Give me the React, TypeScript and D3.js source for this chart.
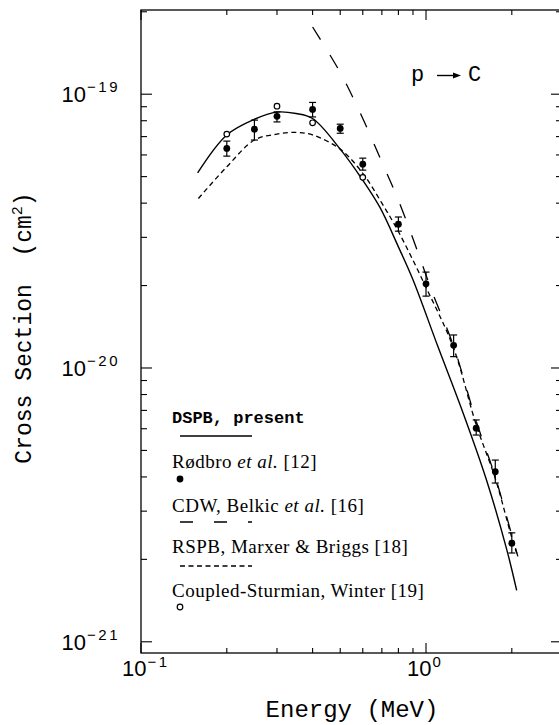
import React from "react";
import * as d3 from "d3";

// ---- data (energy in MeV, cross section in cm^2) ----
const dspbE = [0.158, 0.2, 0.25, 0.3, 0.35, 0.4, 0.5, 0.6, 0.69, 0.8, 0.9, 1.1, 1.35, 1.63, 1.92, 2.08];
const dspbS = [5.16e-20, 7.1e-20, 8.1e-20, 8.6e-20, 8.5e-20, 8.15e-20, 6.3e-20, 4.85e-20, 3.85e-20, 2.77e-20, 2.1e-20, 1.2e-20, 6.84e-21, 3.9e-21, 2.17e-21, 1.54e-21];

const cdwE = [0.4, 0.5, 0.6, 0.7, 0.8, 0.93, 1.05, 1.25, 1.5, 1.75, 2.0, 2.1];
const cdwS = [1.76e-19, 1.2e-19, 8.15e-20, 5.65e-20, 4.1e-20, 2.7e-20, 1.9e-20, 1.2e-20, 6.4e-21, 4.0e-21, 2.45e-21, 2.05e-21];

const rspbE = [0.159, 0.2, 0.25, 0.3, 0.35, 0.4, 0.5, 0.6, 0.7, 0.8, 1.0, 1.25, 1.5, 1.75, 2.0, 2.1];
const rspbS = [4.16e-20, 5.43e-20, 6.8e-20, 7.15e-20, 7.25e-20, 7.1e-20, 6.3e-20, 5.14e-20, 4.0e-20, 3.15e-20, 1.97e-20, 1.18e-20, 6.2e-21, 3.95e-21, 2.4e-21, 2.05e-21];

const rodbroE = [0.2, 0.25, 0.3, 0.4, 0.5, 0.6, 0.8, 1.0, 1.25, 1.5, 1.75, 2.0];
const rodbroS = [6.34e-20, 7.45e-20, 8.3e-20, 8.8e-20, 7.5e-20, 5.55e-20, 3.35e-20, 2.03e-20, 1.21e-20, 6.03e-21, 4.18e-21, 2.29e-21];
const rodbroHi = [6.74e-20, 8.04e-20, 8.62e-20, 9.33e-20, 7.77e-20, 5.84e-20, 3.56e-20, 2.24e-20, 1.32e-20, 6.46e-21, 4.61e-21, 2.5e-21];
const rodbroLo = [5.94e-20, 6.8e-20, 7.92e-20, 8.26e-20, 7.2e-20, 5.28e-20, 3.16e-20, 1.83e-20, 1.1e-20, 5.69e-21, 3.8e-21, 2.11e-21];

const winterE = [0.2, 0.3, 0.4, 0.6];
const winterS = [7.15e-20, 9.04e-20, 7.86e-20, 4.97e-20];

const xMajorTicks = [0.1, 1];
const xMinorTicks = [0.2, 0.3, 0.4, 0.5, 0.6, 0.7, 0.8, 0.9, 2, 3];
const xTickExp = ["\u22121", "0"];
const yMajorTicks = [1e-21, 1e-20, 1e-19];
const yTickExp = ["\u221221", "\u221220", "\u221219"];
const yMinorTicks = [2e-21, 3e-21, 4e-21, 5e-21, 6e-21, 7e-21, 8e-21, 9e-21, 2e-20, 3e-20, 4e-20, 5e-20, 6e-20, 7e-20, 8e-20, 9e-20, 2e-19];

const W = 559;
const H = 725;
const L = 141, R = 562, T = 10, B = 653;

export default function App() {
  const x = d3.scaleLog().domain([0.1, 3]).range([L, R]);
  const y = d3.scaleLog().domain([9.1e-22, 2.03e-19]).range([B, T]);

  const line = d3
    .line<[number, number]>()
    .x((d) => x(d[0]))
    .y((d) => y(d[1]))
    .curve(d3.curveCatmullRom.alpha(0.5));

  const zip = (a: number[], b: number[]) => a.map((v, i) => [v, b[i]] as [number, number]);

  const mono = "'Liberation Mono', 'Courier New', monospace";
  const sans = "'Liberation Sans', Arial, sans-serif";
  const serif = "'Liberation Serif', 'Times New Roman', serif";
  const sw = 1.3;
  const lg = { fontFamily: serif, fontSize: 19, letterSpacing: 0.5 };

  return (
    <svg
      width={W}
      height={H}
      viewBox={`0 0 ${W} ${H}`}
      style={{ position: "absolute", left: 0, top: 0, background: "#fff" }}
    >
      <rect x={0} y={0} width={W} height={H} fill="#fff" />
      {/* frame */}
      <rect x={L} y={T} width={R - L} height={B - T} fill="none" stroke="#000" strokeWidth={sw} />

      {/* x ticks bottom & top */}
      {xMajorTicks.map((t) => (
        <g key={"xM" + t}>
          <line x1={x(t)} x2={x(t)} y1={B} y2={B - 10} stroke="#000" strokeWidth={1.1} />
          <line x1={x(t)} x2={x(t)} y1={T} y2={T + 10} stroke="#000" strokeWidth={1.1} />
        </g>
      ))}
      {xMinorTicks.map((t) => (
        <g key={"xm" + t}>
          <line x1={x(t)} x2={x(t)} y1={B} y2={B - 5} stroke="#000" strokeWidth={1.1} />
          <line x1={x(t)} x2={x(t)} y1={T} y2={T + 5} stroke="#000" strokeWidth={1.1} />
        </g>
      ))}
      {/* y ticks left & right */}
      {yMajorTicks.map((t) => (
        <g key={"yM" + t}>
          <line x1={L} x2={L + 11} y1={y(t)} y2={y(t)} stroke="#000" strokeWidth={1.1} />
          <line x1={R} x2={R - 11} y1={y(t)} y2={y(t)} stroke="#000" strokeWidth={1.1} />
        </g>
      ))}
      {yMinorTicks.map((t) => (
        <g key={"ym" + t}>
          <line x1={L} x2={L + 6} y1={y(t)} y2={y(t)} stroke="#000" strokeWidth={1.1} />
          <line x1={R} x2={R - 6} y1={y(t)} y2={y(t)} stroke="#000" strokeWidth={1.1} />
        </g>
      ))}

      {/* tick labels */}
      {xMajorTicks.map((t, i) => (
        <text key={"xl" + t} x={x(t) - 19} y={B + 23} fontFamily={sans} fontSize={22}>
          10
          <tspan dx={1} dy={-9} fontSize={15} letterSpacing={2.5}>
            {xTickExp[i]}
          </tspan>
        </text>
      ))}
      {yMajorTicks.map((t, i) => (
        <text key={"yl" + t} x={120} y={y(t) + 8} textAnchor="end" fontFamily={sans} fontSize={22}>
          10
          <tspan dx={1} dy={-10} fontSize={15} letterSpacing={2.5}>
            {yTickExp[i]}
          </tspan>
        </text>
      ))}

      {/* axis titles */}
      <text x={352} y={717} textAnchor="middle" fontFamily={mono} fontSize={24}>
        Energy (MeV)
      </text>
      <text
        transform={`translate(31, 328) rotate(-90)`}
        textAnchor="middle"
        fontFamily={mono}
        fontSize={23}
        xmlSpace="preserve"
      >
        {"Cross Section  (cm"}
        <tspan dy={-9} fontSize={15}>
          2
        </tspan>
        <tspan dy={9}>)</tspan>
      </text>

      {/* p -> C */}
      <text x={411} y={81} fontFamily={mono} fontSize={22}>
        p
      </text>
      <line x1={437} x2={455} y1={75.5} y2={75.5} stroke="#000" strokeWidth={1.4} />
      <path d="M453,72.5 L461,75.5 L453,78.5 Z" fill="#000" />
      <text x={468} y={81} fontFamily={mono} fontSize={22}>
        C
      </text>

      {/* curves */}
      <path d={line(zip(dspbE, dspbS)) || ""} fill="none" stroke="#000" strokeWidth={1.4} />
      <path d={line(zip(cdwE, cdwS)) || ""} fill="none" stroke="#000" strokeWidth={1.3} strokeDasharray="15,18" />
      <path d={line(zip(rspbE, rspbS)) || ""} fill="none" stroke="#000" strokeWidth={1.3} strokeDasharray="5,3.5" />

      {/* Rødbro data with error bars */}
      {rodbroE.map((e, i) => (
        <g key={"r" + i}>
          <line x1={x(e)} x2={x(e)} y1={y(rodbroHi[i])} y2={y(rodbroLo[i])} stroke="#000" strokeWidth={1.2} />
          <line x1={x(e) - 3.5} x2={x(e) + 3.5} y1={y(rodbroHi[i])} y2={y(rodbroHi[i])} stroke="#000" strokeWidth={1.2} />
          <line x1={x(e) - 3.5} x2={x(e) + 3.5} y1={y(rodbroLo[i])} y2={y(rodbroLo[i])} stroke="#000" strokeWidth={1.2} />
          <circle cx={x(e)} cy={y(rodbroS[i])} r={3.4} fill="#000" />
        </g>
      ))}
      {/* Winter open circles */}
      {winterE.map((e, i) => (
        <circle key={"w" + i} cx={x(e)} cy={y(winterS[i])} r={2.8} fill="#fff" stroke="#000" strokeWidth={1.2} />
      ))}

      {/* legend */}
      <text x={172} y={423} fontFamily={mono} fontSize={17} fontWeight="bold">
        DSPB, present
      </text>
      <line x1={180} x2={252} y1={436} y2={436} stroke="#000" strokeWidth={1.4} />

      <text x={172} y={468} {...lg}>
        Rødbro <tspan fontStyle="italic">et al.</tspan> [12]
      </text>
      <circle cx={180} cy={479} r={3.4} fill="#000" />

      <text x={172} y={512} {...lg}>
        CDW, Belkic <tspan fontStyle="italic">et al.</tspan> [16]
      </text>
      <line x1={180} x2={252} y1={522} y2={522} stroke="#000" strokeWidth={1.3} strokeDasharray="13,21" />

      <text x={172} y={553} {...lg}>
        RSPB, Marxer &amp; Briggs [18]
      </text>
      <line x1={180} x2={252} y1={566} y2={566} stroke="#000" strokeWidth={1.3} strokeDasharray="5,3.5" />

      <text x={172} y={597} {...lg}>
        Coupled-Sturmian, Winter [19]
      </text>
      <circle cx={180} cy={607} r={2.8} fill="#fff" stroke="#000" strokeWidth={1.2} />
    </svg>
  );
}
